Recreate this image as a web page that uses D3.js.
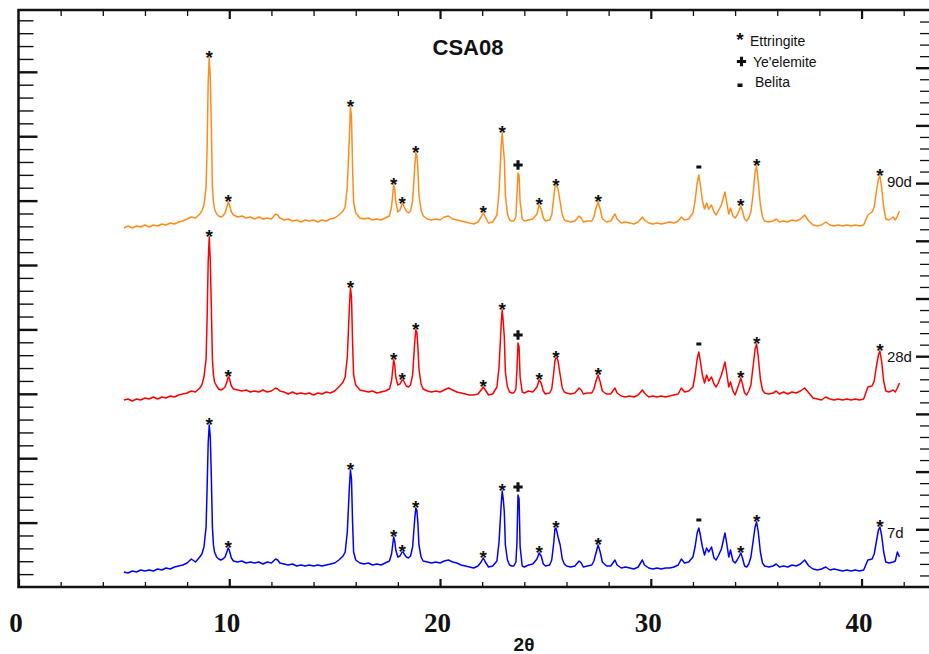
<!DOCTYPE html>
<html>
<head>
<meta charset="utf-8">
<script src="https://cdn.jsdelivr.net/npm/d3@7"></script>
<style>
  body { margin: 0; background: #fff; }
  svg { display: block; font-family: "Liberation Sans", Arial, sans-serif; }
  .x-label { font-family: "Liberation Serif", "Times New Roman", serif; font-weight: bold; font-size: 27px; fill: #111; }
</style>
</head>
<body>
<svg id="xrd-csa08"></svg>
<script>
// 2-theta grid (degrees), shared by the three patterns
const twoTheta = [
    5.0, 5.2, 5.4, 5.6, 5.8, 6.0, 6.2, 6.4, 6.6, 6.8,
    7.0, 7.2, 7.4, 7.6, 7.8, 8.0, 8.2, 8.4, 8.6, 8.7,
    8.8, 8.9, 8.95, 9.0, 9.05, 9.1, 9.15, 9.2, 9.25, 9.3,
    9.4, 9.5, 9.6, 9.7, 9.8, 9.9, 9.95, 10.0, 10.1, 10.2,
    10.4, 10.6, 10.8, 11.0, 11.2, 11.4, 11.6, 11.8, 12.0, 12.2,
    12.3, 12.4, 12.6, 12.8, 13.0, 13.2, 13.4, 13.6, 13.8, 14.0,
    14.2, 14.4, 14.6, 14.8, 15.0, 15.2, 15.4, 15.5, 15.6, 15.7,
    15.75, 15.8, 15.85, 15.9, 16.0, 16.2, 16.4, 16.6, 16.8, 17.0,
    17.2, 17.4, 17.6, 17.7, 17.8, 17.85, 17.9, 18.0, 18.1, 18.2,
    18.25, 18.3, 18.4, 18.5, 18.6, 18.7, 18.8, 18.85, 18.9, 18.95,
    19.0, 19.1, 19.2, 19.4, 19.6, 19.8, 20.0, 20.2, 20.4, 20.6,
    20.8, 21.0, 21.2, 21.4, 21.6, 21.8, 21.95, 22.05, 22.15, 22.3,
    22.5, 22.7, 22.8, 22.9, 22.95, 23.0, 23.05, 23.1, 23.2, 23.3,
    23.4, 23.5, 23.6, 23.65, 23.7, 23.75, 23.8, 23.9, 24.0, 24.2,
    24.4, 24.6, 24.7, 24.8, 24.9, 25.0, 25.2, 25.3, 25.4, 25.45,
    25.5, 25.55, 25.6, 25.7, 25.8, 25.9, 26.0, 26.2, 26.4, 26.6,
    26.7, 26.8, 27.0, 27.2, 27.3, 27.4, 27.5, 27.6, 27.7, 27.9,
    28.1, 28.3, 28.4, 28.6, 28.8, 29.0, 29.2, 29.4, 29.6, 29.7,
    29.9, 30.1, 30.3, 30.5, 30.7, 30.9, 31.1, 31.3, 31.45, 31.6,
    31.8, 32.0, 32.1, 32.2, 32.28, 32.35, 32.45, 32.55, 32.65, 32.75,
    32.88, 33.0, 33.1, 33.2, 33.35, 33.52, 33.6, 33.7, 33.78, 33.9,
    34.0, 34.1, 34.2, 34.27, 34.35, 34.45, 34.55, 34.65, 34.75, 34.85,
    34.95, 35.02, 35.1, 35.2, 35.3, 35.4, 35.6, 35.8, 35.95, 36.1,
    36.3, 36.5, 36.7, 36.9, 37.1, 37.3, 37.5, 37.7, 37.9, 38.1,
    38.3, 38.5, 38.7, 38.9, 39.1, 39.3, 39.5, 39.7, 39.9, 40.1,
    40.3, 40.5, 40.6, 40.7, 40.8, 40.87, 40.95, 41.05, 41.15, 41.3,
    41.5, 41.6, 41.7, 41.8
];

// intensities (a.u.), stacked as in the figure
const int90d = [
    359, 361, 359, 361, 360, 362, 360, 362, 361, 363,
    362, 364, 363, 365, 366, 368, 370, 369, 373, 376,
    382, 400, 440, 505, 529, 510, 460, 400, 385, 378,
    373, 371, 370, 371, 374, 381, 385, 383, 375, 372,
    370, 371, 369, 370, 368, 370, 368, 369, 368, 373,
    372, 369, 367, 368, 366, 367, 365, 367, 366, 367,
    365, 367, 366, 368, 369, 372, 376, 380, 400, 450,
    480, 470, 420, 385, 374, 369, 368, 369, 367, 368,
    367, 369, 371, 380, 402, 398, 385, 375, 377, 383,
    383, 380, 376, 374, 376, 386, 420, 434, 432, 418,
    392, 377, 371, 368, 367, 368, 367, 370, 371, 368,
    367, 366, 365, 364, 363, 365, 370, 374, 370, 364,
    365, 372, 395, 440, 454, 440, 428, 392, 373, 367,
    366, 366, 370, 392, 414, 412, 385, 368, 366, 367,
    368, 373, 382, 378, 369, 366, 367, 372, 390, 400,
    401, 401, 398, 385, 372, 367, 366, 365, 366, 371,
    369, 365, 366, 366, 370, 379, 385, 378, 368, 365,
    366, 373, 368, 364, 365, 364, 363, 365, 370, 367,
    364, 363, 364, 363, 364, 365, 364, 366, 370, 367,
    368, 374, 386, 404, 412, 402, 386, 378, 384, 378,
    382, 375, 372, 376, 382, 395, 385, 373, 379, 371,
    369, 372, 377, 381, 376, 368, 366, 369, 375, 392,
    415, 421, 405, 382, 370, 366, 365, 366, 368, 365,
    366, 365, 367, 366, 368, 372, 366, 362, 361, 362,
    365, 362, 361, 362, 361, 362, 361, 362, 361, 362,
    372, 375, 380, 395, 408, 411, 400, 380, 368, 367,
    370, 367, 371, 376
];

const int28d = [
    187, 188, 186, 188, 187, 189, 188, 190, 188, 190,
    189, 191, 190, 192, 193, 194, 196, 195, 199, 202,
    210, 228, 270, 325, 350, 326, 280, 228, 212, 205,
    201, 198, 197, 198, 200, 206, 210, 209, 201, 198,
    197, 196, 197, 195, 196, 195, 197, 195, 196, 199,
    198, 196, 195, 193, 195, 193, 194, 193, 194, 192,
    194, 193, 195, 194, 196, 200, 205, 210, 230, 280,
    299, 290, 245, 212, 202, 197, 196, 195, 196, 194,
    195, 196, 198, 206, 227, 222, 210, 202, 203, 207,
    207, 205, 201, 200, 202, 212, 245, 257, 255, 240,
    218, 203, 198, 196, 195, 196, 195, 197, 199, 197,
    195, 194, 193, 192, 192, 193, 197, 200, 197, 192,
    193, 200, 220, 262, 277, 265, 250, 215, 200, 195,
    194, 194, 198, 218, 244, 240, 210, 195, 194, 196,
    195, 200, 207, 204, 196, 193, 194, 198, 215, 226,
    229, 229, 226, 212, 199, 195, 194, 193, 194, 199,
    197, 193, 194, 194, 198, 206, 212, 205, 196, 193,
    193, 199, 194, 191, 190, 191, 190, 192, 197, 194,
    190, 191, 190, 191, 190, 191, 192, 193, 199, 195,
    196, 200, 212, 228, 235, 226, 212, 204, 212, 206,
    210, 203, 200, 204, 212, 225, 214, 200, 205, 196,
    192, 198, 204, 209, 203, 194, 192, 196, 202, 220,
    238, 243, 230, 208, 197, 194, 193, 194, 196, 193,
    195, 193, 195, 194, 196, 199, 194, 189, 188, 187,
    190, 188, 187, 188, 187, 188, 187, 188, 187, 188,
    200, 201, 206, 220, 232, 236, 226, 206, 196, 195,
    197, 195, 199, 204
];

const int7d = [
    15, 14, 16, 15, 17, 16, 17, 16, 18, 17,
    19, 18, 20, 21, 22, 24, 28, 25, 30, 33,
    40, 60, 100, 144, 162, 150, 110, 60, 42, 35,
    30, 28, 27, 28, 30, 36, 39, 37, 29, 26,
    25, 26, 24, 25, 24, 25, 23, 25, 24, 28,
    27, 24, 23, 22, 23, 21, 22, 21, 22, 21,
    22, 21, 22, 23, 24, 27, 31, 35, 55, 100,
    117, 108, 65, 35, 27, 24, 23, 24, 22, 23,
    22, 24, 26, 33, 50, 46, 37, 30, 31, 35,
    35, 33, 30, 29, 31, 40, 68, 79, 77, 64,
    42, 30, 26, 25, 24, 25, 24, 26, 27, 25,
    24, 22, 21, 20, 19, 21, 25, 29, 25, 20,
    21, 26, 45, 82, 96, 88, 75, 42, 27, 22,
    21, 21, 25, 45, 92, 88, 40, 21, 20, 22,
    23, 28, 34, 31, 23, 21, 22, 27, 45, 58,
    59, 55, 50, 42, 28, 23, 21, 20, 21, 26,
    24, 20, 21, 22, 26, 34, 42, 35, 25, 21,
    21, 27, 22, 19, 20, 19, 18, 20, 27, 22,
    19, 18, 19, 18, 19, 19, 20, 22, 28, 24,
    25, 30, 40, 54, 59, 52, 40, 32, 39, 35,
    40, 29, 27, 31, 38, 54, 44, 30, 37, 26,
    24, 27, 31, 34, 29, 21, 20, 23, 30, 45,
    60, 65, 55, 35, 24, 21, 20, 21, 23, 20,
    21, 20, 22, 21, 23, 27, 21, 18, 17, 18,
    20, 17, 18, 17, 16, 17, 16, 17, 16, 17,
    27, 28, 33, 45, 57, 60, 52, 35, 25, 24,
    25, 26, 35, 30
];

const seriesNames = ["90d", "28d", "7d"];
const xTickLabels = [0, 10, 20, 30, 40];
const ettringitePeaks = [9.05, 9.95, 15.75, 17.8, 18.25, 18.85, 22.05, 22.95, 24.7, 25.5, 27.5, 34.27, 35.02, 40.87];
const yeelemitePeaks = [23.7];
const belitaPeaks = [32.28];
const legendLabels = ["Ettringite", "Ye'elemite", "Belita"];
const chartTitle = "CSA08";
const xTitle = "2\u03b8";

function drawXrd() {
    var wtot = 929,
        htot = 654;

    // plot frame
    var margin = { top: 10, right: 0, bottom: 67, left: 18.5 },
        x0 = margin.left,
        x1 = wtot - margin.right,
        yTop = margin.top,
        yBot = htot - margin.bottom;

    const allSeries = [int90d, int28d, int7d];
    const colors = ["#ff8c1a", "#ff0000", "#0000ff"];

    // scales
    const xScale = d3.scaleLinear([0, 43.2], [x0, x1]);
    const yScale = d3.scaleLinear([0, 577], [yBot, yTop]);
    const leftScale = d3.scaleLinear([0, 8.96], [yBot, yTop]);
    const rightScale = d3.scaleLinear([0, 10], [yBot, yTop]);

    const svg = d3.select("#xrd-csa08")
        .attr("width", wtot)
        .attr("height", htot)
        .attr("viewBox", "0 0 " + wtot + " " + htot);

    const xMinor = d3.range(2, 43, 2).filter(d => d % 10 !== 0);
    const leftMinor = d3.range(1, 45).filter(d => d % 5 !== 0).map(d => d / 5);
    const rightMinor = d3.range(1, 50).filter(d => d % 5 !== 0).map(d => d / 5);

    function styleTicks(g, w) {
        g.select(".domain").remove();
        g.selectAll(".tick line").attr("stroke", "#111").attr("stroke-width", w);
    }

    // bottom axis (minor + major with labels)
    svg.append("g")
        .attr("transform", `translate(0,${yBot})`)
        .call(d3.axisBottom(xScale).tickValues(xMinor).tickSize(-5).tickSizeOuter(0).tickFormat(""))
        .call(g => styleTicks(g, 1.3));
    svg.append("g")
        .attr("transform", `translate(0,${yBot})`)
        .call(d3.axisBottom(xScale).tickValues(xTickLabels).tickSize(-8).tickSizeOuter(0).tickPadding(26))
        .call(g => styleTicks(g, 2.2))
        .call(g => g.selectAll(".tick text").attr("class", "x-label").attr("dx", -3));

    // top axis
    svg.append("g")
        .attr("transform", `translate(0,${yTop})`)
        .call(d3.axisTop(xScale).tickValues(xMinor).tickSize(-6).tickFormat(""))
        .call(g => styleTicks(g, 1.3));
    svg.append("g")
        .attr("transform", `translate(0,${yTop})`)
        .call(d3.axisTop(xScale).tickValues([10, 20, 30, 40]).tickSize(-9).tickFormat(""))
        .call(g => styleTicks(g, 2.2));

    // left axis
    svg.append("g")
        .attr("transform", `translate(${x0},0)`)
        .call(d3.axisLeft(leftScale).tickValues(leftMinor).tickSize(-15).tickFormat(""))
        .call(g => styleTicks(g, 1.4));
    svg.append("g")
        .attr("transform", `translate(${x0},0)`)
        .call(d3.axisLeft(leftScale).tickValues(d3.range(1, 9)).tickSize(-19).tickFormat(""))
        .call(g => styleTicks(g, 2.4));

    // right axis
    svg.append("g")
        .attr("transform", `translate(${x1},0)`)
        .call(d3.axisRight(rightScale).tickValues(rightMinor).tickSize(-9).tickFormat(""))
        .call(g => styleTicks(g, 1.3));
    svg.append("g")
        .attr("transform", `translate(${x1},0)`)
        .call(d3.axisRight(rightScale).tickValues(d3.range(1, 10)).tickSize(-13).tickFormat(""))
        .call(g => styleTicks(g, 2.4));

    // frame lines
    svg.append("path")
        .attr("fill", "none")
        .attr("stroke", "#111")
        .attr("stroke-width", 2.5)
        .attr("d", `M${x1},${yTop}H${x0}V${yBot}H${x1}`);

    // patterns
    const I = d3.range(twoTheta.length);
    const line = d3.line()
        .curve(d3.curveLinear)
        .x(i => xScale(twoTheta[i]));

    svg.append("g")
        .attr("fill", "none")
        .attr("stroke-width", 1.5)
        .attr("stroke-linejoin", "round")
        .selectAll("path")
        .data(allSeries)
        .join("path")
        .attr("stroke", (d, k) => colors[k])
        .attr("d", d => line.y(i => yScale(d[i]))(I));

    // phase markers sit on the local maximum near each peak position
    function peakIndex(values, pos) {
        const near = I.filter(i => Math.abs(twoTheta[i] - pos) <= 0.06);
        return d3.greatest(near, i => values[i]);
    }

    const marks = [];
    allSeries.forEach(values => {
        ettringitePeaks.forEach(p => marks.push({ kind: "star", values: values, i: peakIndex(values, p) }));
        yeelemitePeaks.forEach(p => marks.push({ kind: "plus", values: values, i: peakIndex(values, p) }));
        belitaPeaks.forEach(p => marks.push({ kind: "dash", values: values, i: peakIndex(values, p) }));
    });

    const markG = svg.append("g").attr("fill", "#111");
    markG.selectAll("text")
        .data(marks.filter(m => m.kind === "star"))
        .join("text")
        .attr("x", m => xScale(twoTheta[m.i]))
        .attr("y", m => yScale(m.values[m.i]) + 5.5)
        .attr("text-anchor", "middle")
        .attr("font-weight", "bold")
        .attr("font-size", 19)
        .text("*");
    markG.selectAll("path")
        .data(marks.filter(m => m.kind === "plus"))
        .join("path")
        .attr("transform", m => `translate(${xScale(twoTheta[m.i])},${yScale(m.values[m.i]) - 8})`)
        .attr("d", d3.symbol(d3.symbolCross, 48));
    markG.selectAll("rect")
        .data(marks.filter(m => m.kind === "dash"))
        .join("rect")
        .attr("x", m => xScale(twoTheta[m.i]) - 2.5)
        .attr("y", m => yScale(m.values[m.i]) - 9.5)
        .attr("width", 5)
        .attr("height", 3);

    // age labels next to the last peak
    const lastPeak = ettringitePeaks[ettringitePeaks.length - 1];
    svg.append("g")
        .selectAll("text")
        .data(allSeries)
        .join("text")
        .attr("x", xScale(lastPeak) + 7)
        .attr("y", d => yScale(d[peakIndex(d, lastPeak)]) + 11)
        .attr("font-size", 15)
        .attr("fill", "#111")
        .text((d, k) => seriesNames[k]);

    // title
    svg.append("text")
        .attr("x", 468)
        .attr("y", 55)
        .attr("text-anchor", "middle")
        .attr("font-weight", "bold")
        .attr("font-size", 22)
        .attr("fill", "#111")
        .text(chartTitle);

    // x title
    svg.append("text")
        .attr("x", 524)
        .attr("y", 651)
        .attr("text-anchor", "middle")
        .attr("font-weight", "bold")
        .attr("font-size", 19)
        .attr("fill", "#111")
        .text(xTitle);

    // legend
    const legend = svg.append("g")
        .attr("transform", "translate(740,0)")
        .attr("fill", "#111");
    legend.append("text")
        .attr("x", 0).attr("y", 46)
        .attr("text-anchor", "middle")
        .attr("font-weight", "bold")
        .attr("font-size", 19)
        .text("*");
    legend.append("path")
        .attr("transform", "translate(1.5,61.5)")
        .attr("d", d3.symbol(d3.symbolCross, 48));
    legend.append("rect")
        .attr("x", -2.5).attr("y", 83.5)
        .attr("width", 5).attr("height", 3.5);
    legend.selectAll(".legend-label")
        .data(legendLabels)
        .join("text")
        .attr("class", "legend-label")
        .attr("x", (d, k) => [10, 13, 15][k])
        .attr("y", (d, k) => [46, 67, 87][k])
        .attr("font-size", 14)
        .text(d => d);
}

drawXrd();
</script>
</body>
</html>
